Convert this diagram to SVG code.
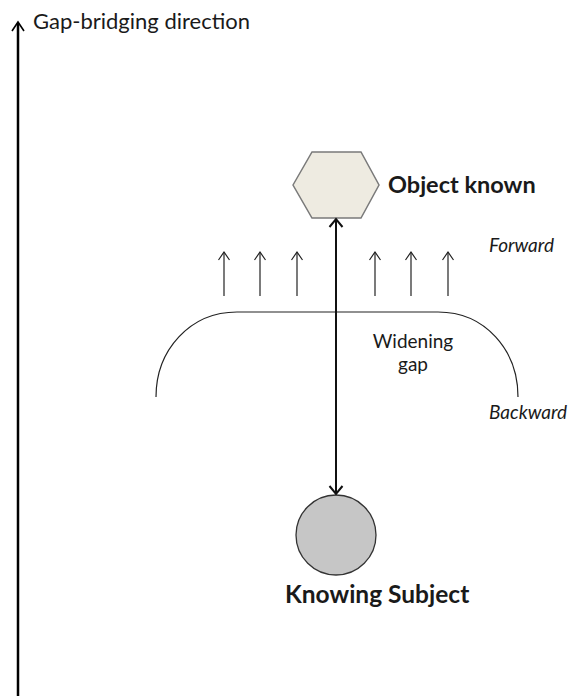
<svg xmlns="http://www.w3.org/2000/svg" width="571" height="696" viewBox="0 0 571 696">
<style>
text{font-family:Lato,"Open Sans","Liberation Sans",sans-serif;fill:#1a1a1a}
.b{font-weight:bold}
.i{font-style:italic;font-size:19px}
.thin{stroke:#222;stroke-width:1.2;fill:none}
</style>
<defs>
<marker id="open" viewBox="0 0 8 12" refX="8" refY="6" markerWidth="8" markerHeight="12" markerUnits="userSpaceOnUse" orient="auto-start-reverse" overflow="visible">
<path d="M0,0.5 L8,6 L0,11.5" fill="none" stroke="#222" stroke-width="1.2"/>
</marker>
<marker id="big" viewBox="0 0 8 14" refX="8" refY="7" markerWidth="8" markerHeight="14" markerUnits="userSpaceOnUse" orient="auto-start-reverse" overflow="visible">
<path d="M0,0.5 L8,7 L0,13.5" fill="none" stroke="#111" stroke-width="2"/>
</marker>
</defs>
<rect width="571" height="696" fill="#fff"/>
<g id="axis">
<line x1="18" y1="696" x2="18" y2="23" stroke="#000" stroke-width="2.5"/>
<path d="M12,31 L18,22 L24,31" fill="none" stroke="#000" stroke-width="1.6"/>
<text x="33" y="29" font-size="22">Gap-bridging direction</text>
</g>
<g id="object-known">
<polygon points="293,185 312,152 361,152 379,185 361,218 312,218" fill="#eeebe1" stroke="#7a7a7a" stroke-width="1.5"/>
<text x="388" y="193" font-size="23.5" class="b">Object known</text>
</g>
<g id="knowing-subject">
<circle cx="336" cy="535" r="40" fill="#c6c6c6" stroke="#333" stroke-width="1.3"/>
<text x="285" y="603" font-size="24.5" class="b">Knowing Subject</text>
</g>
<g id="gap">
<path class="thin" d="M156,397 C156,350 190,312 237,312 L438,312 C485,312 518,350 518,397"/>
<text x="413" y="348" font-size="19" text-anchor="middle">Widening</text>
<text x="413" y="371" font-size="19" text-anchor="middle">gap</text>
<text x="489" y="252" class="i">Forward</text>
<text x="489" y="419" class="i">Backward</text>
</g>
<g id="connectors">
<line x1="336" y1="219" x2="336" y2="494" stroke="#111" stroke-width="2" marker-start="url(#big)" marker-end="url(#big)"/>
<g class="thin" marker-end="url(#open)">
<line x1="224" y1="296" x2="224" y2="252"/>
<line x1="260" y1="296" x2="260" y2="252"/>
<line x1="297" y1="296" x2="297" y2="252"/>
<line x1="375" y1="296" x2="375" y2="252"/>
<line x1="411" y1="296" x2="411" y2="252"/>
<line x1="448" y1="296" x2="448" y2="252"/>
</g>
</g>
</svg>
